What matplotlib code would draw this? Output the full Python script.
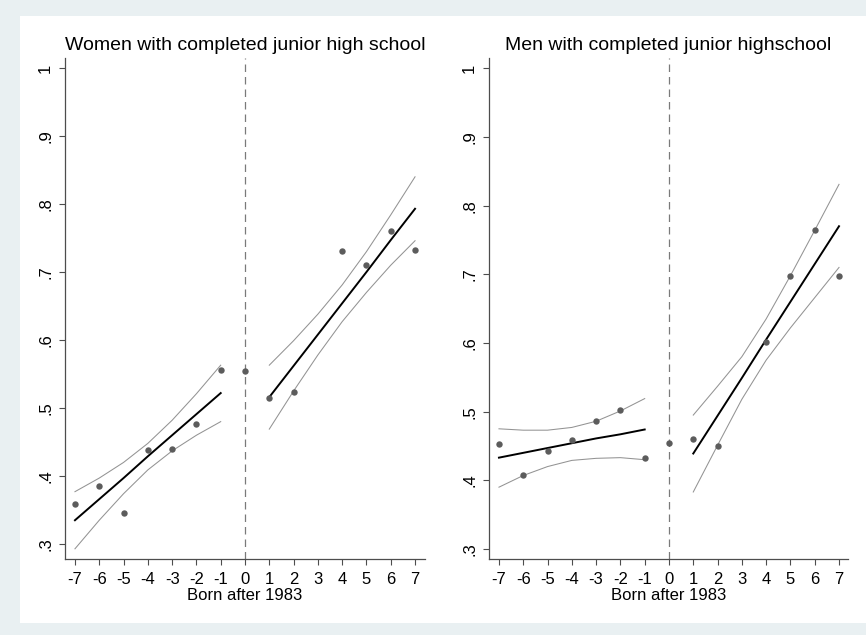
import matplotlib
matplotlib.use("Agg")
import matplotlib.pyplot as plt
from matplotlib.patches import Rectangle

plt.rcParams['font.family'] = ['Liberation Sans', 'DejaVu Sans']

# ---------------- data ----------------
titles = ["Women with completed junior high school", "Men with completed junior highschool"]
xlabel = "Born after 1983"
xticks = [-7, -6, -5, -4, -3, -2, -1, 0, 1, 2, 3, 4, 5, 6, 7]
yticks = [0.3, 0.4, 0.5, 0.6, 0.7, 0.8, 0.9, 1.0]
ytick_labels = [".3", ".4", ".5", ".6", ".7", ".8", ".9", "1"]

# scatter (cohort means)
women_x = [-7, -6, -5, -4, -3, -2, -1, 0, 1, 2, 4, 5, 6, 7]
women_y = [0.359, 0.386, 0.345, 0.438, 0.440, 0.476, 0.556, 0.554, 0.515, 0.524, 0.731, 0.710, 0.761, 0.733]
men_x = [-7, -6, -5, -4, -3, -2, -1, 0, 1, 2, 4, 5, 6, 7]
men_y = [0.453, 0.408, 0.442, 0.459, 0.486, 0.502, 0.433, 0.455, 0.460, 0.450, 0.601, 0.698, 0.764, 0.697]

# fitted lines and confidence bands
pre_x = [-7, -6, -5, -4, -3, -2, -1]
post_x = [1, 2, 3, 4, 5, 6, 7]

women_pre_fit = [0.335, 0.366, 0.397, 0.429, 0.460, 0.491, 0.522]
women_pre_hi = [0.377, 0.397, 0.420, 0.448, 0.482, 0.521, 0.563]
women_pre_lo = [0.293, 0.335, 0.374, 0.409, 0.437, 0.460, 0.480]
women_post_fit = [0.516, 0.562, 0.608, 0.654, 0.700, 0.747, 0.793]
women_post_hi = [0.563, 0.599, 0.638, 0.681, 0.730, 0.784, 0.840]
women_post_lo = [0.469, 0.525, 0.578, 0.627, 0.670, 0.710, 0.746]

men_pre_fit = [0.433, 0.440, 0.447, 0.454, 0.461, 0.467, 0.474]
men_pre_hi = [0.475, 0.473, 0.473, 0.477, 0.486, 0.501, 0.519]
men_pre_lo = [0.390, 0.407, 0.420, 0.429, 0.432, 0.433, 0.430]
men_post_fit = [0.439, 0.494, 0.549, 0.605, 0.660, 0.715, 0.770]
men_post_hi = [0.495, 0.537, 0.580, 0.635, 0.698, 0.764, 0.831]
men_post_lo = [0.383, 0.451, 0.518, 0.575, 0.622, 0.666, 0.710]

# ---------------- figure ----------------
W, H = 866, 635
fig = plt.figure(figsize=(W / 100, H / 100), dpi=100)
fig.patch.set_facecolor('#E9F0F2')
fig.add_artist(Rectangle((20 / W, (H - 623) / H), (W - 20) / W, (623 - 16) / H,
                         transform=fig.transFigure, facecolor='white', edgecolor='none', zorder=0))

def px_axes(x0, x1, y0, y1):
    return fig.add_axes([x0 / W, (H - y1) / H, (x1 - x0) / W, (y1 - y0) / H])

ax_w = px_axes(65, 425, 58, 559)
ax_m = px_axes(489, 848, 58, 559)

panels = [
    (ax_w, women_x, women_y, women_pre_fit, women_pre_hi, women_pre_lo,
     women_post_fit, women_post_hi, women_post_lo, (0.278, 1.0147), (-7.41, 7.41)),
    (ax_m, men_x, men_y, men_pre_fit, men_pre_hi, men_pre_lo,
     men_post_fit, men_post_hi, men_post_lo, (0.2854, 1.015), (-7.41, 7.37)),
]

axis_col = '#4d4d4d'
for i, (ax, sx, sy, pf, ph, pl, qf, qh, ql, ylim, xlim) in enumerate(panels):
    ax.set_facecolor('none')
    ax.axvline(0, color='#7a7a7a', lw=0.9, ls=(0, (6, 4)), zorder=1)
    for xs, ys in ((pre_x, ph), (pre_x, pl), (post_x, qh), (post_x, ql)):
        ax.plot(xs, ys, color='#939393', lw=0.75, zorder=2)
    ax.plot(pre_x, pf, color='black', lw=1.4, zorder=3)
    ax.plot(post_x, qf, color='black', lw=1.4, zorder=3)
    ax.plot(sx, sy, 'o', color='#5c5c5c', ms=4.6, mec='none', zorder=4)

    ax.set_xlim(*xlim)
    ax.set_ylim(*ylim)
    ax.set_xticks(xticks)
    ax.set_xticklabels([str(t) for t in xticks])
    ax.set_yticks(yticks)
    ax.set_yticklabels(ytick_labels, rotation=90, va='center')
    ax.tick_params(axis='both', direction='out', length=4.5, width=0.8,
                   color=axis_col, labelsize=12, labelcolor='black')
    ax.tick_params(axis='y', pad=4)
    ax.tick_params(axis='x', pad=5)
    for s in ('top', 'right'):
        ax.spines[s].set_visible(False)
    for s in ('left', 'bottom'):
        ax.spines[s].set_color(axis_col)
        ax.spines[s].set_linewidth(0.9)
    ax.set_xlabel(xlabel, fontsize=12, labelpad=0.5)

fig.text(245.5 / W, (H - 45) / H, titles[0], ha='center', va='center', fontsize=14)
fig.text(668.5 / W, (H - 45) / H, titles[1], ha='center', va='center', fontsize=14)

fig.savefig('out.png', dpi=100, facecolor=fig.get_facecolor())
